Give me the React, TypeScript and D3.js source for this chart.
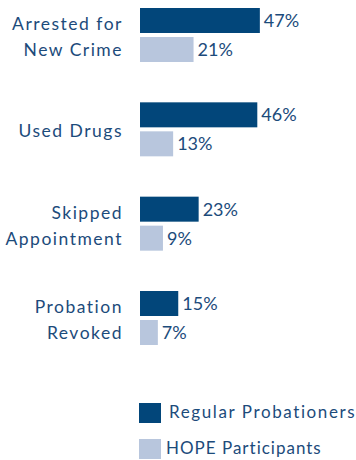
import React from "react";
import * as d3 from "d3";

const categories = [["Arrested for", "New Crime"], ["Used Drugs"], ["Skipped", "Appointment"], ["Probation", "Revoked"]];
const categoryKeys = ["Arrested for New Crime", "Used Drugs", "Skipped Appointment", "Probation Revoked"];
const regular = [47, 46, 23, 15];
const hope = [21, 13, 9, 7];
const seriesNames = ["Regular Probationers", "HOPE Participants"];

const W = 356;
const H = 460;
const DARK = "#02467a";
const LIGHT = "#b8c6dd";
const TEXT = "#1c4b7b";
const FONT = "Lato, 'Open Sans', sans-serif";

export default function App() {
  const x = d3.scaleLinear().domain([0, 100]).range([140, 140 + 255]);
  const y = d3.scalePoint().domain(categoryKeys).range([35, 318]);
  const barH = 25;
  const gap = 4;
  const series = [regular, hope];
  const colors = [DARK, LIGHT];

  return (
    <div style={{ position: "absolute", left: 0, top: 0 }}>
      <svg width={W} height={H} style={{ display: "block", background: "#fff" }}>
        {categoryKeys.map((key, i) => {
          const c = y(key) as number;
          const lines = categories[i];
          return (
            <g key={key}>
              {series.map((s, j) => {
                const top = j === 0 ? c - gap / 2 - barH : c + gap / 2;
                return (
                  <g key={j}>
                    <rect x={x(0)} y={top} width={x(s[i]) - x(0)} height={barH} fill={colors[j]} />
                    <text x={x(s[i]) + 4} y={top + barH / 2 + 6.5} fill={TEXT} fontFamily={FONT} fontSize={18}>
                      {s[i]}%
                    </text>
                  </g>
                );
              })}
              {lines.map((ln, k) => (
                <text
                  key={k}
                  x={123}
                  y={c + 8 + (k - (lines.length - 1) / 2) * 26}
                  textAnchor="end"
                  fill={TEXT}
                  fontFamily={FONT}
                  fontSize={17.5}
                  letterSpacing={1.5}
                >
                  {ln}
                </text>
              ))}
            </g>
          );
        })}
        {seriesNames.map((n, j) => (
          <g key={n}>
            <rect x={139} y={403 + j * 36} width={22} height={20} fill={colors[j]} />
            <text x={j === 0 ? 169 : 166} y={418 + j * 36} fill={TEXT} fontFamily={FONT} fontSize={17} letterSpacing={j === 0 ? 1.6 : 1.0}>
              {n}
            </text>
          </g>
        ))}
      </svg>
    </div>
  );
}
